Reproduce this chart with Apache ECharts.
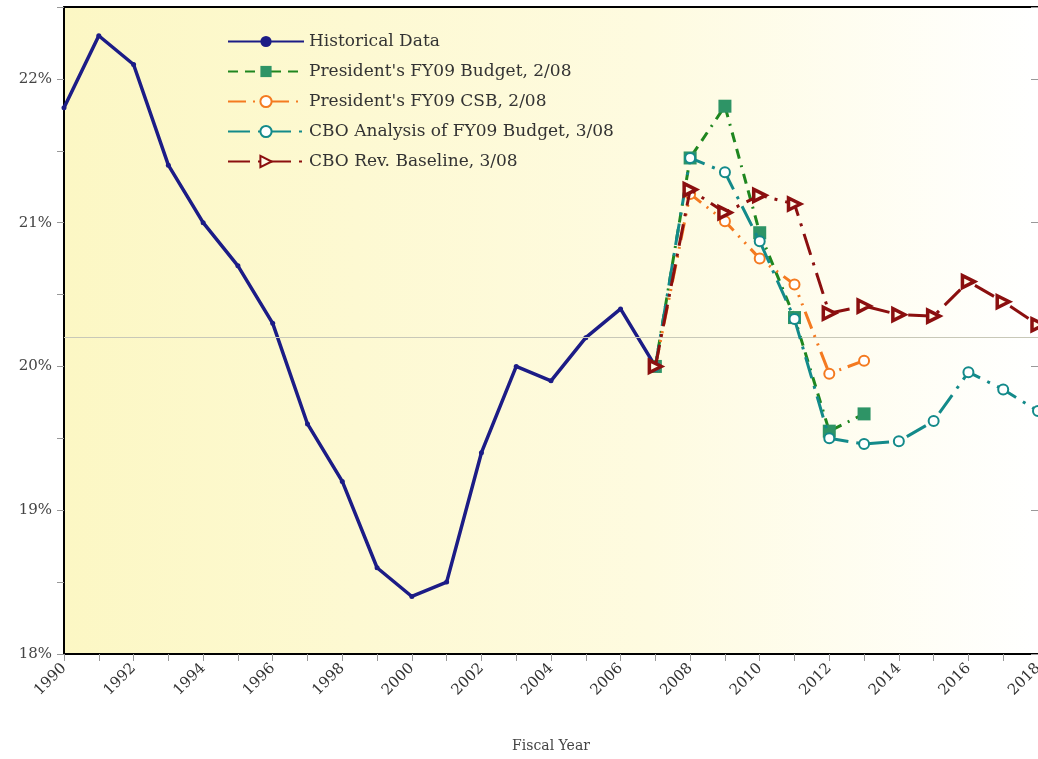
<!DOCTYPE html>
<html><head><meta charset="utf-8">
<script src="https://cdn.jsdelivr.net/npm/echarts@6/dist/echarts.min.js"></script>
<style>html,body{margin:0;padding:0;background:#fff;overflow:hidden}#c{width:1038px;height:759px}</style>
</head><body><div id="c"></div>
<script>
const histYears = [1990,1991,1992,1993,1994,1995,1996,1997,1998,1999,2000,2001,2002,2003,2004,2005,2006,2007];
const histVals  = [21.8,22.3,22.1,21.4,21.0,20.7,20.3,19.6,19.2,18.6,18.4,18.5,19.4,20.0,19.9,20.2,20.4,20.0];
const projYears = [2007,2008,2009,2010,2011,2012,2013];
const presBudget = [20.0,21.45,21.81,20.93,20.34,19.55,19.67];
const presCSB    = [20.0,21.2,21.01,20.75,20.57,19.95,20.04];
const longYears = [2007,2008,2009,2010,2011,2012,2013,2014,2015,2016,2017,2018];
const cboAnalysis = [20.0,21.45,21.35,20.87,20.33,19.5,19.46,19.48,19.62,19.96,19.84,19.69];
const cboBaseline = [20.0,21.23,21.07,21.19,21.13,20.37,20.42,20.36,20.35,20.59,20.45,20.29];
const refLevel = 20.2;
const seriesNames = ["Historical Data","President's FY09 Budget, 2/08","President's FY09 CSB, 2/08","CBO Analysis of FY09 Budget, 3/08","CBO Rev. Baseline, 3/08"];

const pair = (xs, ys) => xs.map((x,i)=>[x, ys[i]]);
const serif = "'DejaVu Serif', serif";
const chart = echarts.init(document.getElementById('c'), null, {width:1038, height:759});
chart.setOption({
  animation:false,
  backgroundColor:'#ffffff',
  grid:{left:64, right:0, top:7, bottom:105, show:true, borderWidth:0, containLabel:false, outerBoundsMode:'none',
    backgroundColor:{type:'linear',x:0,y:0,x2:1,y2:0,colorStops:[{offset:0,color:'#fcf7c4'},{offset:0.6,color:'#fefbe0'},{offset:1,color:'#ffffff'}]}},
  legend:{
    left:222, top:28, orient:'vertical', itemGap:13, itemWidth:76, itemHeight:14,
    textStyle:{fontFamily:serif, fontSize:17, color:'#333'},
    data:seriesNames
  },
  xAxis:[{
    type:'value', min:1990, max:2018, interval:2,
    name:'Fiscal Year', nameLocation:'middle', nameGap:85,
    nameTextStyle:{fontFamily:serif, fontSize:14, color:'#444'},
    axisLine:{show:true, lineStyle:{color:'#000', width:2}},
    axisTick:{show:true, length:7, lineStyle:{color:'#999'}},
    minorTick:{show:true, splitNumber:2, length:7, lineStyle:{color:'#999'}},
    axisLabel:{rotate:45, fontFamily:serif, fontSize:15, color:'#333', margin:12, formatter:v=>String(v)},
    splitLine:{show:false}
  },{
    type:'value', position:'top', min:1990, max:2018,
    axisLine:{show:true, lineStyle:{color:'#000', width:2}},
    axisTick:{show:false}, axisLabel:{show:false}, splitLine:{show:false}
  }],
  yAxis:[{
    type:'value', min:18, max:22.5, interval:1,
    axisLine:{show:true, lineStyle:{color:'#000', width:2}},
    axisTick:{show:true, length:7, lineStyle:{color:'#999'}},
    minorTick:{show:true, splitNumber:2, length:7, lineStyle:{color:'#999'}},
    axisLabel:{fontFamily:serif, fontSize:15, color:'#444', margin:12,
      formatter:v=>Number.isInteger(v)?v+'%':''},
    splitLine:{show:false}
  },{
    type:'value', position:'right', min:18, max:22.5, interval:1, offset:3,
    axisLine:{show:false},
    axisTick:{show:true, inside:true, length:10, lineStyle:{color:'#999'}},
    axisLabel:{show:false}, splitLine:{show:false}
  }],
  series:[
    {name:seriesNames[0], type:'line', data:pair(histYears,histVals), symbol:'circle', symbolSize:5,
      itemStyle:{color:'#1c1c86'}, lineStyle:{color:'#1c1c86', width:3.5}, z:3,
      markLine:{silent:true, symbol:'none', label:{show:false},
        lineStyle:{color:'#c8c8b8', width:1.2, type:'solid'}, data:[{yAxis:refLevel}]}},
    {name:seriesNames[1], type:'line', data:pair(projYears,presBudget), symbol:'rect', symbolSize:13,
      itemStyle:{color:'#2e9466'}, lineStyle:{color:'#1f861f', width:3, type:[10,7,10,7,2,7]}, z:4},
    {name:seriesNames[2], type:'line', data:pair(projYears,presCSB), symbol:'emptyCircle', symbolSize:10,
      itemStyle:{color:'#f47a20', borderWidth:3.5}, lineStyle:{color:'#f47a20', width:3, type:[18,7,2,7,2,7]}, z:5},
    {name:seriesNames[3], type:'line', data:pair(longYears,cboAnalysis), symbol:'emptyCircle', symbolSize:10,
      itemStyle:{color:'#138a8a', borderWidth:3.5}, lineStyle:{color:'#138a8a', width:3, type:[22,8,3,8]}, z:6},
    {name:seriesNames[4], type:'line', data:pair(longYears,cboBaseline), symbol:'triangle', symbolRotate:-90, symbolSize:12,
      itemStyle:{color:'#fffbe8', borderColor:'#8b0f0f', borderWidth:3.5}, lineStyle:{color:'#8b0f0f', width:3, type:[22,8,3,8]}, z:7}
  ]
});
</script></body></html>
